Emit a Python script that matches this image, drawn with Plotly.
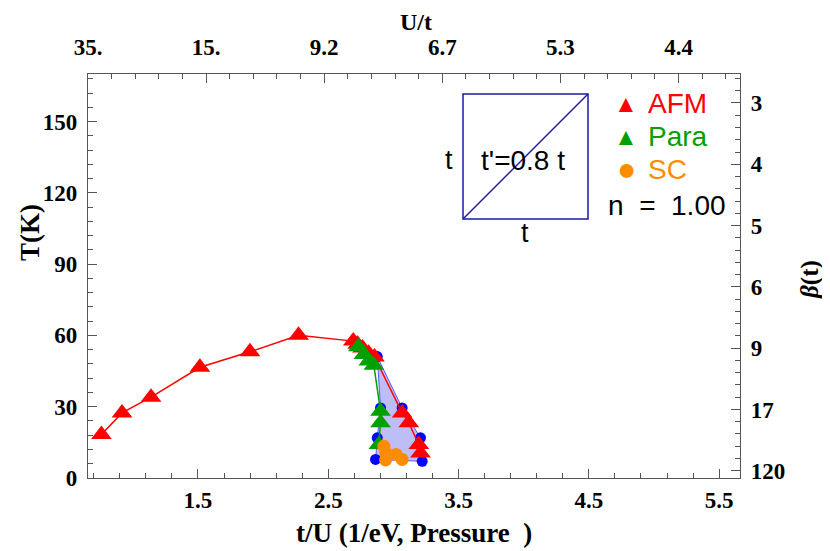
import plotly.graph_objects as go

# AFM (red triangles, joined by a line)
afm_x = [0.759, 0.917, 1.140, 1.515, 1.899, 2.272, 2.692, 2.725, 2.763, 2.809, 2.855,
         3.067, 3.118, 3.195, 3.208]
afm_T = [18.3, 27.4, 34.0, 46.6, 53.1, 60.1, 57.6, 56.3, 54.7, 52.5, 50.9,
         27.4, 23.2, 14.1, 10.5]

# Para (green triangles)
para_x = [2.731, 2.773, 2.811, 2.850, 2.901, 2.901, 2.888]
para_T = [55.2, 52.0, 49.2, 47.4, 28.1, 23.2, 14.1]

# SC (orange circles)
sc_x = [2.927, 2.940, 2.940, 3.020, 3.067]
sc_T = [13.4, 10.8, 7.6, 9.9, 7.8]

# blue region corners
blue_x = [2.876, 2.901, 2.876, 2.863, 3.221, 3.208, 3.067, 2.876]
blue_T = [51.1, 29.5, 16.9, 7.8, 7.0, 16.9, 29.5, 51.1]

# top axis (U/t) and right axis (beta)
top_labels = ["35.", "15.", "9.2", "6.7", "5.3", "4.4"]
beta_labels = ["120", "17", "9", "6", "5", "4", "3"]

serif = "Liberation Serif"
sans = "Liberation Sans"
frame = "#555555"

fig = go.Figure()

fig.add_trace(go.Scatter(x=blue_x, y=blue_T, fill="toself", fillcolor="rgba(40,40,230,0.3)",
                         mode="lines", line=dict(color="rgba(0,0,255,0.6)", width=1)))
fig.add_trace(go.Scatter(x=blue_x[:-1], y=blue_T[:-1], mode="markers",
                         marker=dict(color="#0000ff", size=11, symbol="circle")))
fig.add_trace(go.Scatter(x=afm_x, y=afm_T, mode="lines+markers",
                         line=dict(color="#ff0000", width=1.5),
                         marker=dict(color="#ff0000", size=18, symbol="triangle-up")))
fig.add_trace(go.Scatter(x=para_x, y=para_T, mode="lines+markers",
                         line=dict(color="#00a000", width=1.5),
                         marker=dict(color="#00a000", size=18, symbol="triangle-up")))
fig.add_trace(go.Scatter(x=sc_x, y=sc_T, mode="markers",
                         marker=dict(color="#ff8c00", size=13, symbol="circle")))

tickfont = dict(family=serif, size=23, color="black", weight="bold")
common = dict(ticks="inside", ticklen=9, tickcolor=frame, showline=True, linecolor=frame,
              linewidth=1.2, showgrid=False, zeroline=False, tickfont=tickfont,
              automargin=False)

# page body has an 8px margin, so the figure is shrunk to fit the window
fig.update_layout(
    width=822, height=543,
    margin=dict(l=80, r=90, t=66, b=73),
    plot_bgcolor="white", paper_bgcolor="white",
    font=dict(color="black"),
    showlegend=False,
    xaxis=dict(range=[0.656, 5.66], tick0=0.5, dtick=1, ticklabelstandoff=1,
               minor=dict(tick0=0.5, dtick=0.2, ticks="inside", ticklen=5, tickcolor=frame),
               **common),
    xaxis2=dict(overlaying="x", side="top", range=[0, 5.52], ticklabelstandoff=9,
                tickmode="array", tickvals=list(range(len(top_labels))), ticktext=top_labels,
                minor=dict(tick0=0, dtick=0.2, ticks="inside", ticklen=5, tickcolor=frame),
                **common),
    yaxis=dict(range=[0, 170], dtick=30, ticklabelstandoff=5,
               minor=dict(tick0=0, dtick=6, ticks="inside", ticklen=5, tickcolor=frame),
               **common),
    yaxis2=dict(overlaying="y", side="right", range=[-0.118, 6.473], ticklabelstandoff=5,
                tickmode="array", tickvals=list(range(len(beta_labels))), ticktext=beta_labels,
                minor=dict(tick0=0, dtick=0.2, ticks="inside", ticklen=5, tickcolor=frame),
                **common),
)

# keep the secondary axes alive
fig.add_trace(go.Scatter(x=[None], y=[None], xaxis="x2", yaxis="y2", showlegend=False))


def px_x(p):
    return (p - 88) / (740 - 88)


def px_y(p):
    return 1 - (p - 74) / (478 - 74)


def label(x, y, text, font, anchor="center", angle=0):
    fig.add_annotation(xref="x domain", yref="y domain", x=px_x(x), y=px_y(y), text=text,
                       showarrow=False, xanchor=anchor, yanchor="middle", textangle=angle,
                       font=font)


title_font = dict(family=serif, size=27, color="black")
label(30, 233, "<b>T(K)</b>", title_font, angle=-90)
label(414, 533, "<b>t/U (1/eV, Pressure&nbsp;&nbsp;)</b>", title_font)
label(416, 22, "<b>U/t</b>", dict(family=serif, size=24, color="black"))
label(810, 280, "<b><i>β</i>(t)</b>", dict(family=serif, size=25, color="black"), angle=-90)

# inset lattice sketch
fig.add_shape(type="rect", xref="x domain", yref="y domain",
              x0=px_x(463), x1=px_x(588), y0=px_y(219), y1=px_y(94),
              line=dict(color="#1a1aa6", width=1.5))
fig.add_shape(type="line", xref="x domain", yref="y domain",
              x0=px_x(463), x1=px_x(588), y0=px_y(219), y1=px_y(94),
              line=dict(color="#1a1aa6", width=1.5))
inset_font = dict(family=sans, size=27, color="black")
label(449, 160, "t", inset_font)
label(523, 160, "t'=0.8 t", dict(family=sans, size=28, color="black"))
label(525, 233, "t", inset_font)

# legend
leg = [("▲", "AFM", "#ff0000", 104, 24), ("▲", "Para", "#00a000", 136, 24),
       ("●", "SC", "#ff8c00", 169, 32)]
for sym, name, col, yy, sz in leg:
    label(626, yy, sym, dict(family=sans, size=sz, color=col))
    label(646, yy, name, dict(family=sans, size=28, color=col), anchor="left")
label(606, 205, "n&nbsp;&nbsp;=&nbsp;&nbsp;1.00", dict(family=sans, size=28, color="black"),
      anchor="left")

fig.write_html("out.html")
